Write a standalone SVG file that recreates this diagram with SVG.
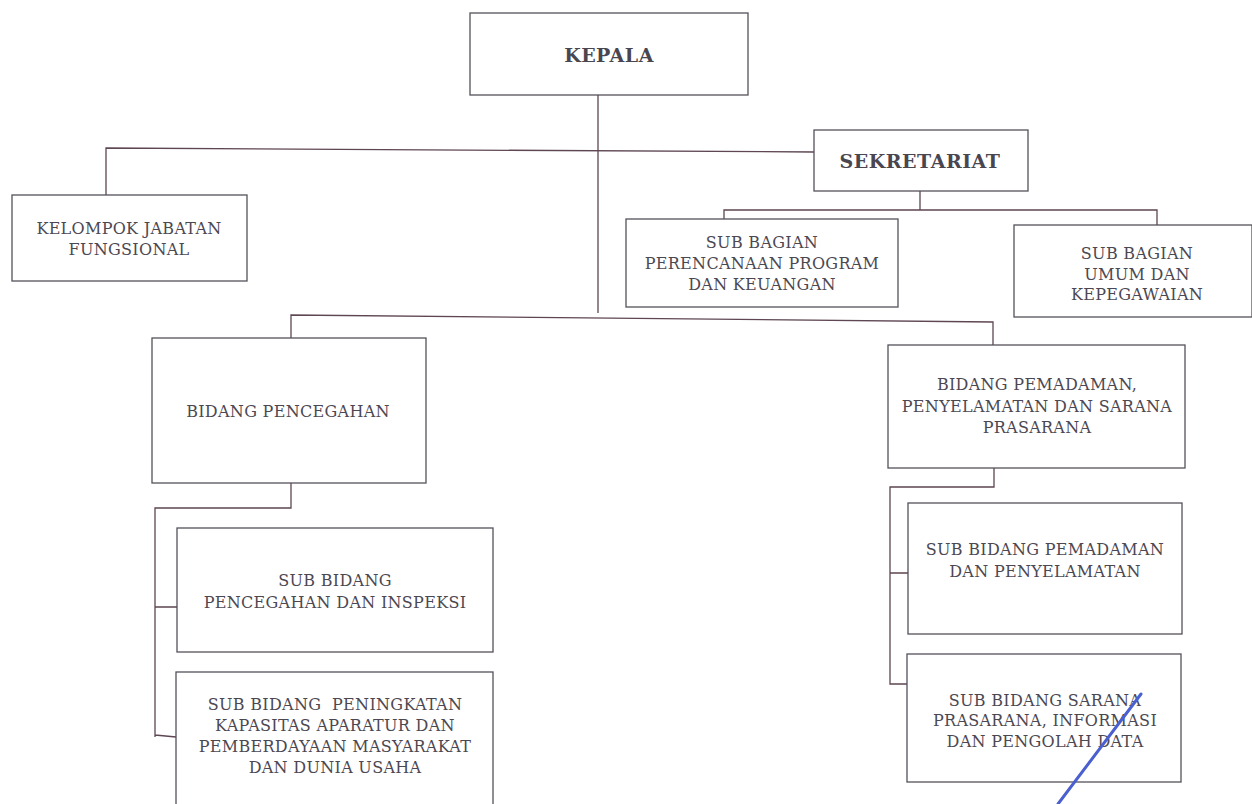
<svg xmlns="http://www.w3.org/2000/svg" width="1252" height="804" viewBox="0 0 1252 804">
<style>
.box{fill:#ffffff;stroke:#55505a;stroke-width:1.3}
.ln{fill:none;stroke:#5e4652;stroke-width:1.3}
.t{font-family:"DejaVu Serif","Liberation Serif",serif;font-size:16px;fill:#4c4852;text-anchor:middle;letter-spacing:0.3px}
.b{font-weight:bold;font-size:19px;fill:#4a4650;letter-spacing:0.5px}
</style>
<rect width="1252" height="804" fill="#ffffff"/>
<g id="connectors">
<path class="ln" d="M598 95 V313"/>
<path class="ln" d="M106 195 V148 L814 152"/>
<path class="ln" d="M920 191 V210 M724 219 V210 H1157 V225"/>
<path class="ln" d="M291 338 V315 L993 322 V345"/>
<path class="ln" d="M291 483 V508 H155 V737 M155 607 H177 M155 735 L176 737"/>
<path class="ln" d="M994 468 V487 H890 V684 H907 M890 573 H908"/>
</g>
<g id="kepala">
<rect class="box" x="470" y="13" width="278" height="82"/>
<text class="t b" x="609" y="62">KEPALA</text>
</g>
<g id="sekretariat">
<rect class="box" x="814" y="130" width="214" height="61"/>
<text class="t b" x="920" y="168">SEKRETARIAT</text>
</g>
<g id="kelompok">
<rect class="box" x="12" y="195" width="235" height="86"/>
<text class="t" x="129" y="234">KELOMPOK JABATAN</text>
<text class="t" x="129" y="255">FUNGSIONAL</text>
</g>
<g id="subbag-perencanaan">
<rect class="box" x="626" y="219" width="272" height="88"/>
<text class="t" x="762" y="248">SUB BAGIAN</text>
<text class="t" x="762" y="269">PERENCANAAN PROGRAM</text>
<text class="t" x="762" y="290">DAN KEUANGAN</text>
</g>
<g id="subbag-umum">
<rect class="box" x="1014" y="225" width="238" height="92"/>
<text class="t" x="1137" y="259">SUB BAGIAN</text>
<text class="t" x="1137" y="280">UMUM DAN</text>
<text class="t" x="1137" y="300">KEPEGAWAIAN</text>
</g>
<g id="bidang-pencegahan">
<rect class="box" x="152" y="338" width="274" height="145"/>
<text class="t" x="288" y="417">BIDANG PENCEGAHAN</text>
</g>
<g id="bidang-pemadaman">
<rect class="box" x="888" y="345" width="297" height="123"/>
<text class="t" x="1037" y="390">BIDANG PEMADAMAN,</text>
<text class="t" x="1037" y="412">PENYELAMATAN DAN SARANA</text>
<text class="t" x="1037" y="433">PRASARANA</text>
</g>
<g id="subbid-pencegahan">
<rect class="box" x="177" y="528" width="316" height="124"/>
<text class="t" x="335" y="586">SUB BIDANG</text>
<text class="t" x="335" y="608">PENCEGAHAN DAN INSPEKSI</text>
</g>
<g id="subbid-peningkatan">
<rect class="box" x="176" y="672" width="317" height="140"/>
<text class="t" x="335" y="710" xml:space="preserve">SUB BIDANG  PENINGKATAN</text>
<text class="t" x="335" y="731">KAPASITAS APARATUR DAN</text>
<text class="t" x="335" y="752">PEMBERDAYAAN MASYARAKAT</text>
<text class="t" x="335" y="773">DAN DUNIA USAHA</text>
</g>
<g id="subbid-pemadaman">
<rect class="box" x="908" y="503" width="274" height="131"/>
<text class="t" x="1045" y="555">SUB BIDANG PEMADAMAN</text>
<text class="t" x="1045" y="577">DAN PENYELAMATAN</text>
</g>
<g id="subbid-sarana">
<rect class="box" x="907" y="654" width="274" height="128"/>
<text class="t" x="1045" y="706">SUB BIDANG SARANA</text>
<text class="t" x="1045" y="726">PRASARANA, INFORMASI</text>
<text class="t" x="1045" y="747">DAN PENGOLAH DATA</text>
</g>
<path d="M1141 694 L1058 804" fill="none" stroke="#4a5fd0" stroke-width="3" stroke-linecap="round"/>
</svg>
